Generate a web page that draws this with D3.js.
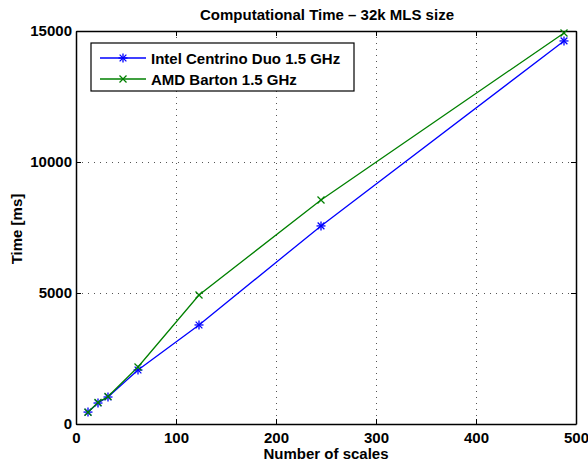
<!DOCTYPE html>
<html><head><meta charset="utf-8">
<script src="https://cdn.jsdelivr.net/npm/d3@7"></script>
<style>body{margin:0;background:#fff}svg{display:block}text{font-family:"Liberation Sans",Arial,sans-serif;font-weight:bold}</style>
</head><body>
<svg id="c" width="588" height="466"></svg>
<script>
const scales = [12, 22, 32, 62, 123, 245, 488];
const intel = [455, 800, 1030, 2060, 3780, 7560, 14620];
const amd = [450, 820, 1050, 2175, 4925, 8550, 14925];
const seriesNames = ["Intel Centrino Duo 1.5 GHz", "AMD Barton 1.5 GHz"];
const xTicks = [0, 100, 200, 300, 400, 500];
const yTicks = [0, 5000, 10000, 15000];

const svg = d3.select("#c");
const L = 76, R = 576, T = 31, B = 424;
const x = d3.scaleLinear().domain([0, 500]).range([L, R]);
const y = d3.scaleLinear().domain([0, 15000]).range([B, T]);

// grid
const g = svg.append("g");
g.selectAll(".gx").data(xTicks.slice(1, -1)).enter().append("line")
  .attr("x1", d => x(d)).attr("x2", d => x(d)).attr("y1", T).attr("y2", B)
  .attr("stroke", "#555").attr("stroke-width", 1).attr("stroke-dasharray", "1,5").attr("shape-rendering", "crispEdges");
g.selectAll(".gy").data(yTicks.slice(1, -1)).enter().append("line")
  .attr("y1", d => y(d)).attr("y2", d => y(d)).attr("x1", L).attr("x2", R)
  .attr("stroke", "#555").attr("stroke-width", 1).attr("stroke-dasharray", "1,5").attr("shape-rendering", "crispEdges");

// axes
const ax = svg.append("g").attr("transform", `translate(0,${B})`)
  .call(d3.axisBottom(x).tickValues(xTicks).tickSize(-5).tickPadding(8).tickSizeOuter(0));
const ay = svg.append("g").attr("transform", `translate(${L},0)`)
  .call(d3.axisLeft(y).tickValues(yTicks).tickSize(-5).tickPadding(4).tickSizeOuter(0).tickFormat(d3.format("d")));
const axt = svg.append("g").attr("transform", `translate(0,${T})`)
  .call(d3.axisTop(x).tickValues(xTicks).tickSize(-5).tickFormat("").tickSizeOuter(0));
const ayr = svg.append("g").attr("transform", `translate(${R},0)`)
  .call(d3.axisRight(y).tickValues(yTicks).tickSize(-5).tickFormat("").tickSizeOuter(0));
[ax, ay, axt, ayr].forEach(a => {
  a.selectAll("path").attr("stroke", "#000").attr("stroke-width", 1.5);
  a.selectAll("line").attr("stroke", "#000");
  a.selectAll("text").attr("font-size", 15).attr("fill", "#000").attr("font-family", "Liberation Sans, Arial, sans-serif").attr("font-weight", "bold");
});

// lines
const line = d3.line().x((d, i) => x(scales[i])).y(d => y(d));
svg.append("path").datum(intel).attr("d", line).attr("fill", "none").attr("stroke", "#0000ff").attr("stroke-width", 1.3);
svg.append("path").datum(amd).attr("d", line).attr("fill", "none").attr("stroke", "#008000").attr("stroke-width", 1.3);

function star(sel, cx, cy, c) {
  const r = 4.5;
  const gg = sel.append("g").attr("stroke", c).attr("stroke-width", 1.3);
  gg.append("line").attr("x1", cx - r).attr("x2", cx + r).attr("y1", cy).attr("y2", cy);
  gg.append("line").attr("x1", cx).attr("x2", cx).attr("y1", cy - r).attr("y2", cy + r);
  const k = r * 0.75;
  gg.append("line").attr("x1", cx - k).attr("x2", cx + k).attr("y1", cy - k).attr("y2", cy + k);
  gg.append("line").attr("x1", cx - k).attr("x2", cx + k).attr("y1", cy + k).attr("y2", cy - k);
}
function cross(sel, cx, cy, c) {
  const k = 3.5;
  const gg = sel.append("g").attr("stroke", c).attr("stroke-width", 1.3);
  gg.append("line").attr("x1", cx - k).attr("x2", cx + k).attr("y1", cy - k).attr("y2", cy + k);
  gg.append("line").attr("x1", cx - k).attr("x2", cx + k).attr("y1", cy + k).attr("y2", cy - k);
}
intel.forEach((v, i) => star(svg, x(scales[i]), y(v), "#0000ff"));
amd.forEach((v, i) => cross(svg, x(scales[i]), y(v), "#008000"));

// legend
const lg = svg.append("g");
lg.append("rect").attr("x", 91).attr("y", 43).attr("width", 263).attr("height", 48)
  .attr("fill", "#fff").attr("stroke", "#000").attr("stroke-width", 1.2);
const rows = [{c: "#0000ff", m: star, yy: 58}, {c: "#008000", m: cross, yy: 79}];
rows.forEach((r, i) => {
  lg.append("line").attr("x1", 100).attr("x2", 146).attr("y1", r.yy).attr("y2", r.yy).attr("stroke", r.c).attr("stroke-width", 1.3);
  r.m(lg, 123, r.yy, r.c);
  lg.append("text").attr("x", 151).attr("y", r.yy + 5.5).attr("font-size", 15).text(seriesNames[i]);
});

// labels
svg.append("text").attr("x", 327).attr("y", 20).attr("text-anchor", "middle").attr("font-size", 15).text("Computational Time \u2013 32k MLS size");
svg.append("text").attr("x", 326).attr("y", 459).attr("text-anchor", "middle").attr("font-size", 15).text("Number of scales");
svg.append("text").attr("transform", "translate(22,229) rotate(-90)").attr("text-anchor", "middle").attr("font-size", 15).text("Time [ms]");
</script>
</body></html>
